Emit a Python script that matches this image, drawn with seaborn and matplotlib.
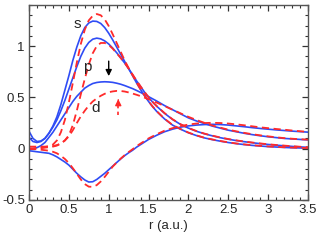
import matplotlib
matplotlib.use("Agg")
import matplotlib.pyplot as plt
import seaborn as sns
import pandas as pd
from matplotlib.ticker import MultipleLocator

# radial grid (a.u.)
r = [0.0, 0.05, 0.1, 0.15, 0.2, 0.25, 0.3, 0.35, 0.4, 0.45, 0.5, 0.55, 0.6, 0.65,
     0.7, 0.75, 0.8, 0.85, 0.9, 0.95, 1.0, 1.05, 1.1, 1.15, 1.2, 1.25, 1.3, 1.35,
     1.4, 1.45, 1.5, 1.55, 1.6, 1.7, 1.8, 1.9, 2.0, 2.1, 2.2, 2.3, 2.4, 2.5, 2.6,
     2.7, 2.8, 2.9, 3.0, 3.1, 3.2, 3.3, 3.4, 3.5]

# solid blue curves
s_solid = [0.17, 0.10, 0.07, 0.075, 0.10, 0.15, 0.22, 0.31, 0.43, 0.57, 0.71, 0.86, 0.99, 1.10,
           1.18, 1.225, 1.243, 1.24, 1.22, 1.18, 1.125, 1.06, 0.99, 0.92, 0.85, 0.78, 0.71, 0.64,
           0.575, 0.515, 0.46, 0.41, 0.365, 0.29, 0.23, 0.19, 0.155, 0.128, 0.105, 0.088, 0.073, 0.06, 0.049,
           0.04, 0.032, 0.026, 0.02, 0.016, 0.012, 0.009, 0.007, 0.005]
p_solid = [0.11, 0.07, 0.06, 0.07, 0.10, 0.15, 0.21, 0.28, 0.37, 0.47, 0.58, 0.69, 0.80, 0.90,
           0.98, 1.035, 1.067, 1.077, 1.07, 1.05, 1.02, 0.98, 0.935, 0.885, 0.835, 0.78, 0.72, 0.66,
           0.605, 0.55, 0.50, 0.455, 0.415, 0.345, 0.285, 0.237, 0.20, 0.17, 0.145, 0.125, 0.107, 0.092, 0.079,
           0.068, 0.058, 0.049, 0.041, 0.034, 0.028, 0.022, 0.017, 0.013]
d_solid = [0.0, 0.0, 0.01, 0.03, 0.06, 0.11, 0.16, 0.22, 0.28, 0.34, 0.40, 0.46, 0.51, 0.55,
           0.59, 0.615, 0.635, 0.645, 0.65, 0.652, 0.65, 0.646, 0.638, 0.628, 0.615, 0.60, 0.585, 0.567,
           0.548, 0.528, 0.507, 0.486, 0.465, 0.42, 0.38, 0.34, 0.30, 0.27, 0.245, 0.22, 0.20, 0.18, 0.165,
           0.15, 0.137, 0.126, 0.116, 0.108, 0.10, 0.095, 0.09, 0.086]
n_solid = [-0.02, -0.025, -0.03, -0.035, -0.04, -0.045, -0.06, -0.08, -0.105, -0.13, -0.16, -0.20, -0.24, -0.275,
           -0.305, -0.325, -0.322, -0.30, -0.27, -0.24, -0.205, -0.17, -0.135, -0.10, -0.068, -0.04, -0.015, 0.015,
           0.04, 0.065, 0.09, 0.11, 0.13, 0.165, 0.19, 0.21, 0.222, 0.23, 0.235, 0.237, 0.235, 0.23, 0.222,
           0.214, 0.205, 0.197, 0.19, 0.183, 0.177, 0.171, 0.166, 0.161]

# dashed red curves
s_dash = [0.02, 0.02, 0.02, 0.02, 0.02, 0.025, 0.04, 0.08, 0.16, 0.28, 0.45, 0.64, 0.84, 1.02,
          1.16, 1.25, 1.295, 1.312, 1.30, 1.26, 1.195, 1.115, 1.03, 0.945, 0.86, 0.785, 0.715, 0.645,
          0.578, 0.517, 0.462, 0.412, 0.367, 0.292, 0.232, 0.192, 0.157, 0.13, 0.107, 0.09, 0.075, 0.062, 0.051,
          0.042, 0.034, 0.028, 0.022, 0.018, 0.014, 0.011, 0.008, 0.006]
p_dash = [0.0, 0.0, 0.005, 0.01, 0.015, 0.02, 0.025, 0.035, 0.05, 0.08, 0.13, 0.23, 0.37, 0.53,
          0.68, 0.82, 0.93, 1.00, 1.03, 1.03, 1.01, 0.975, 0.93, 0.885, 0.835, 0.78, 0.722, 0.662,
          0.607, 0.552, 0.502, 0.457, 0.417, 0.347, 0.287, 0.239, 0.202, 0.172, 0.147, 0.127, 0.109, 0.094, 0.081,
          0.07, 0.06, 0.051, 0.043, 0.036, 0.03, 0.024, 0.019, 0.015]
d_dash = [0.0, 0.0, 0.0, 0.005, 0.01, 0.015, 0.02, 0.03, 0.05, 0.08, 0.12, 0.18, 0.25, 0.315,
          0.37, 0.42, 0.46, 0.49, 0.515, 0.535, 0.55, 0.558, 0.563, 0.562, 0.557, 0.548, 0.537, 0.525,
          0.512, 0.497, 0.482, 0.466, 0.45, 0.415, 0.38, 0.345, 0.31, 0.28, 0.252, 0.226, 0.205, 0.185, 0.169,
          0.154, 0.141, 0.13, 0.12, 0.111, 0.103, 0.097, 0.092, 0.088]
n_dash = [0.0, 0.0, -0.005, -0.01, -0.015, -0.02, -0.03, -0.045, -0.07, -0.10, -0.14, -0.19, -0.245, -0.30,
          -0.345, -0.37, -0.372, -0.355, -0.32, -0.275, -0.225, -0.175, -0.135, -0.097, -0.063, -0.033, -0.005, 0.025,
          0.05, 0.075, 0.10, 0.12, 0.14, 0.175, 0.20, 0.22, 0.235, 0.245, 0.25, 0.252, 0.25, 0.245, 0.237,
          0.228, 0.218, 0.208, 0.20, 0.192, 0.185, 0.177, 0.17, 0.164]

x_ticks = [0, 0.5, 1, 1.5, 2, 2.5, 3, 3.5]
x_tick_labels = ["0", "0.5", "1", "1.5", "2", "2.5", "3", "3.5"]
y_ticks = [-0.5, 0, 0.5, 1]
y_tick_labels = ["-0.5", "0", "0.5", "1"]

BLUE = "#2f4cf5"
RED = "#ff2a2a"

sns.set_style("ticks")
plt.rcParams["font.family"] = ["Liberation Sans", "DejaVu Sans"]

fig = plt.figure(figsize=(3.2, 2.4), dpi=100)
ax = fig.add_axes([0.0906, 0.1667, 0.8719, 0.8125])

for y in [s_solid, p_solid, d_solid, n_solid]:
    sns.lineplot(x=r, y=y, ax=ax, color=BLUE, lw=1.2, estimator=None, sort=False)
for y in [s_dash, p_dash, d_dash, n_dash]:
    sns.lineplot(x=r, y=y, ax=ax, color=RED, lw=1.3, estimator=None, sort=False,
                 linestyle=(0, (4, 2.5)))

ax.set_xlim(0, 3.5)
ax.set_ylim(-0.5, 1.4)
ax.set_xticks(x_ticks)
ax.set_xticklabels(x_tick_labels)
ax.set_yticks(y_ticks)
ax.set_yticklabels(y_tick_labels)
ax.xaxis.set_minor_locator(MultipleLocator(0.1))
ax.yaxis.set_minor_locator(MultipleLocator(0.1))
ax.tick_params(which="both", direction="in", top=True, right=True, labelsize=9.5,
               color="#333333", pad=3)
ax.tick_params(which="major", length=4.5, width=0.9)
ax.tick_params(which="minor", length=2.5, width=0.8)
for sp in ax.spines.values():
    sp.set_visible(True)
    sp.set_linewidth(1.0)
    sp.set_color("#555555")

ax.set_xlabel("r (a.u.)", fontsize=9.5, labelpad=3)
ax.set_ylabel("")

ax.text(0.61, 1.21, "s", fontsize=11, ha="center", va="center")
ax.text(0.73, 0.80, "p", fontsize=11, ha="center", va="center")
ax.text(0.83, 0.40, "d", fontsize=11, ha="center", va="center")

ax.annotate("", xy=(1.0, 0.68), xytext=(1.0, 0.88),
            arrowprops=dict(arrowstyle="-|>", color="black", lw=1.0, mutation_scale=9))
ax.plot([1.12, 1.12], [0.33, 0.46], color=RED, lw=1.2, linestyle=(0, (2, 2)))
ax.annotate("", xy=(1.12, 0.51), xytext=(1.12, 0.45),
            arrowprops=dict(arrowstyle="-|>", color=RED, lw=1.0, mutation_scale=9))

fig.savefig("out.png", dpi=100)
